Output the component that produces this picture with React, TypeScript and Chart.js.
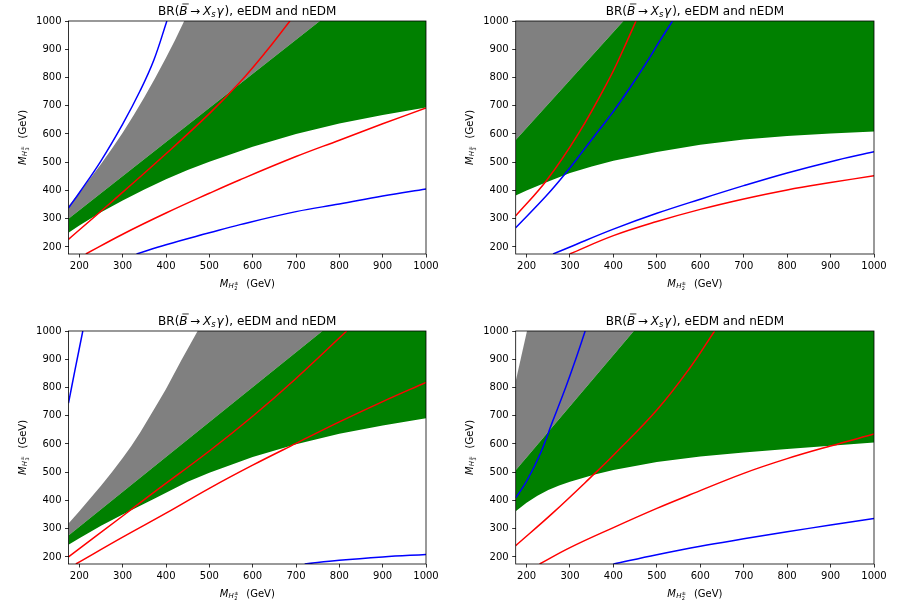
import React, { useEffect, useRef } from 'react';
import { Chart, registerables } from 'chart.js';
Chart.register(...registerables);

const X_MIN = 175, X_MAX = 1000, Y_MIN = 175, Y_MAX = 1000;
const TICKS = [200, 300, 400, 500, 600, 700, 800, 900, 1000];

// ---------- Panel 1 (top-left) ----------
const P1_GREEN_LOW_X = [175, 200, 250, 300, 350, 400, 450, 500, 600, 700, 800, 900, 1000];
const P1_GREEN_LOW_Y = [250, 276, 323, 364, 403, 440, 472, 502, 555, 600, 637, 667, 694];
const P1_GREEN_TOP_X = [175, 755];
const P1_GREEN_TOP_Y = [300, 1000];
const P1_GRAY_EDGE_X = [175, 200, 225, 250, 275, 300, 325, 350, 375, 400, 421, 442];
const P1_GRAY_EDGE_Y = [345, 393, 442, 494, 548, 604, 665, 730, 798, 870, 933, 1000];
const P1_RED_A_X = [175, 275, 400, 500, 570, 630, 686];
const P1_RED_A_Y = [227, 360, 530, 672, 782, 890, 1000];
const P1_RED_B_X = [215, 300, 400, 500, 571, 700, 800, 900, 1000];
const P1_RED_B_Y = [175, 245, 320, 390, 438, 520, 578, 636, 692];
const P1_BLUE_A_X = [175, 200, 250, 300, 340, 372, 402];
const P1_BLUE_A_Y = [338, 392, 505, 635, 752, 862, 1000];
const P1_BLUE_B_X = [332, 400, 500, 571, 700, 800, 900, 1000];
const P1_BLUE_B_Y = [175, 208, 250, 279, 325, 352, 380, 405];

// ---------- Panel 2 (top-right) ----------
const P2_GREEN_LOW_X = [175, 200, 250, 300, 350, 400, 500, 600, 700, 800, 900, 1000];
const P2_GREEN_LOW_Y = [382, 400, 432, 462, 485, 505, 536, 562, 580, 593, 602, 609];
const P2_GREEN_TOP_X = [175, 423];
const P2_GREEN_TOP_Y = [579, 1000];
const P2_GRAY_EDGE_X = [175];
const P2_GRAY_EDGE_Y = [1000];
const P2_RED_A_X = [175, 246, 319, 392, 423, 452];
const P2_RED_A_Y = [310, 435, 600, 800, 900, 1000];
const P2_RED_B_X = [299, 400, 500, 600, 700, 800, 900, 1000];
const P2_RED_B_Y = [175, 240, 290, 333, 370, 402, 428, 452];
const P2_BLUE_A_X = [175, 246, 292, 330, 365, 400, 440, 475, 505, 536];
const P2_BLUE_A_Y = [268, 382, 465, 540, 610, 680, 768, 850, 925, 1000];
const P2_BLUE_B_X = [261, 300, 400, 500, 600, 700, 800, 900, 1000];
const P2_BLUE_B_Y = [175, 200, 263, 319, 369, 417, 462, 502, 537];

// ---------- Panel 3 (bottom-left) ----------
const P3_GREEN_LOW_X = [175, 200, 250, 300, 375, 450, 500, 600, 700, 800, 900, 1000];
const P3_GREEN_LOW_Y = [243, 266, 310, 350, 408, 466, 498, 554, 599, 636, 665, 691];
const P3_GREEN_TOP_X = [175, 761];
const P3_GREEN_TOP_Y = [276, 1000];
const P3_GRAY_EDGE_X = [175, 200, 225, 250, 275, 300, 320, 340, 359, 380, 400, 420, 436, 455, 473];
const P3_GRAY_EDGE_Y = [318, 362, 407, 452, 500, 550, 593, 640, 688, 742, 795, 852, 898, 950, 1000];
const P3_RED_A_X = [175, 300, 375, 500, 600, 700, 817];
const P3_RED_A_Y = [200, 345, 432, 575, 698, 832, 1000];
const P3_RED_B_X = [192, 300, 400, 500, 600, 700, 800, 900, 1000];
const P3_RED_B_Y = [175, 270, 355, 443, 525, 602, 678, 750, 818];
const P3_BLUE_A_X = [175, 190, 208];
const P3_BLUE_A_Y = [745, 862, 1000];
const P3_BLUE_B_X = [720, 800, 900, 1000];
const P3_BLUE_B_Y = [175, 188, 200, 209];

// ---------- Panel 4 (bottom-right) ----------
const P4_GREEN_LOW_X = [175, 200, 225, 250, 275, 300, 357, 400, 500, 600, 700, 800, 900, 1000];
const P4_GREEN_LOW_Y = [362, 392, 417, 437, 453, 466, 492, 508, 536, 556, 570, 582, 594, 605];
const P4_GREEN_TOP_X = [175, 447];
const P4_GREEN_TOP_Y = [507, 1000];
const P4_GRAY_EDGE_X = [175, 201];
const P4_GRAY_EDGE_Y = [822, 1000];
const P4_RED_A_X = [175, 260, 356, 400, 500, 576, 633];
const P4_RED_A_Y = [240, 355, 494, 560, 720, 869, 1000];
const P4_RED_B_X = [230, 300, 400, 500, 576, 700, 800, 900, 1000];
const P4_RED_B_Y = [175, 233, 304, 372, 420, 496, 548, 593, 635];
const P4_BLUE_A_X = [175, 200, 230, 260, 290, 312, 335];
const P4_BLUE_A_Y = [409, 468, 560, 680, 800, 895, 1000];
const P4_BLUE_B_X = [400, 500, 600, 700, 800, 900, 1000];
const P4_BLUE_B_Y = [175, 208, 238, 264, 289, 313, 336];

const FAM = '"DejaVu Sans", sans-serif';

type Part = { t: string; s: number; i?: boolean; dy?: number; sup?: string; supDy?: number; bar?: boolean; pad?: number };

const TITLE_PARTS: Part[] = [
  { t: 'BR(', s: 12 },
  { t: 'B', s: 12, i: true, bar: true, pad: 2.5 },
  { t: '→', s: 12, pad: 3 },
  { t: 'X', s: 12, i: true },
  { t: 's', s: 8.4, i: true, dy: 2.2, pad: 0.8 },
  { t: 'γ', s: 12, i: true, pad: 1 },
  { t: '), eEDM and nEDM', s: 12 },
];
const XLABEL_PARTS: Part[] = [
  { t: 'M', s: 10, i: true, pad: 0.3 },
  { t: 'H', s: 7, i: true, dy: 1.5, pad: 0.4 },
  { t: '2', s: 5, dy: 3.4, sup: '±', supDy: -1.2, pad: 1.5 },
  { t: '  (GeV)', s: 10 },
];
const YLABEL_PARTS: Part[] = [
  { t: 'M', s: 10, i: true, pad: 0.3 },
  { t: 'H', s: 7, i: true, dy: 1.5, pad: 0.4 },
  { t: '3', s: 5, dy: 3.4, sup: '±', supDy: -1.2, pad: 1.5 },
  { t: '  (GeV)', s: 10 },
];

function fnt(size: number, italic?: boolean) {
  return `${italic ? 'italic ' : ''}${size}px ${FAM}`;
}
function partsWidth(ctx: CanvasRenderingContext2D, parts: Part[]) {
  let w = 0;
  for (const p of parts) {
    ctx.font = fnt(p.s, p.i);
    let pw = ctx.measureText(p.t).width;
    if (p.sup) pw = Math.max(pw, ctx.measureText(p.sup).width);
    w += pw + (p.pad || 0);
  }
  return w;
}
function drawParts(ctx: CanvasRenderingContext2D, parts: Part[], cx: number, y: number) {
  const w = partsWidth(ctx, parts);
  let x = cx - w / 2;
  ctx.textAlign = 'left';
  ctx.textBaseline = 'alphabetic';
  ctx.fillStyle = '#000';
  for (const p of parts) {
    ctx.font = fnt(p.s, p.i);
    const tw = ctx.measureText(p.t).width;
    ctx.fillText(p.t, x, y + (p.dy || 0));
    let pw = tw;
    if (p.sup) {
      const sw = ctx.measureText(p.sup).width;
      ctx.fillText(p.sup, x, y + (p.supDy || 0));
      pw = Math.max(tw, sw);
    }
    if (p.bar) {
      ctx.beginPath();
      ctx.lineWidth = 0.8;
      ctx.strokeStyle = '#000';
      const by = y - p.s * 0.92;
      ctx.moveTo(x + p.s * 0.25, by);
      ctx.lineTo(x + tw + p.s * 0.1, by);
      ctx.stroke();
    }
    x += pw + (p.pad || 0);
  }
}

const decor = {
  id: 'decor',
  afterDraw(chart: any) {
    const { ctx, chartArea: a } = chart;
    ctx.save();
    ctx.strokeStyle = '#000';
    ctx.lineWidth = 0.8;
    ctx.strokeRect(a.left, a.top, a.right - a.left, a.bottom - a.top);
    const cx = (a.left + a.right) / 2;
    drawParts(ctx, TITLE_PARTS, cx, a.top - 6);
    drawParts(ctx, XLABEL_PARTS, cx, a.bottom + 32.5);
    ctx.translate(a.left - 43, (a.top + a.bottom) / 2);
    ctx.rotate(-Math.PI / 2);
    drawParts(ctx, YLABEL_PARTS, 0, 0);
    ctx.restore();
  },
};

function pts(xs: number[], ys: number[]) {
  return xs.map((x, i) => ({ x, y: ys[i] }));
}

type PanelCfg = {
  left: number; top: number; w: number; h: number;
  area: { l: number; r: number; t: number; b: number };
  gl: [number[], number[]]; gt: [number[], number[]]; ge: [number[], number[]];
  lines: { x: number[]; y: number[]; color: string }[];
};

const PANELS: PanelCfg[] = [
  {
    left: 0, top: 0, w: 449, h: 300, area: { l: 68.5, r: 426, t: 21, b: 254 },
    gl: [P1_GREEN_LOW_X, P1_GREEN_LOW_Y], gt: [P1_GREEN_TOP_X, P1_GREEN_TOP_Y], ge: [P1_GRAY_EDGE_X, P1_GRAY_EDGE_Y],
    lines: [
      { x: P1_RED_A_X, y: P1_RED_A_Y, color: 'red' },
      { x: P1_RED_B_X, y: P1_RED_B_Y, color: 'red' },
      { x: P1_BLUE_A_X, y: P1_BLUE_A_Y, color: 'blue' },
      { x: P1_BLUE_B_X, y: P1_BLUE_B_Y, color: 'blue' },
    ],
  },
  {
    left: 450, top: 0, w: 449, h: 300, area: { l: 65.7, r: 424, t: 21, b: 254 },
    gl: [P2_GREEN_LOW_X, P2_GREEN_LOW_Y], gt: [P2_GREEN_TOP_X, P2_GREEN_TOP_Y], ge: [P2_GRAY_EDGE_X, P2_GRAY_EDGE_Y],
    lines: [
      { x: P2_RED_A_X, y: P2_RED_A_Y, color: 'red' },
      { x: P2_RED_B_X, y: P2_RED_B_Y, color: 'red' },
      { x: P2_BLUE_A_X, y: P2_BLUE_A_Y, color: 'blue' },
      { x: P2_BLUE_B_X, y: P2_BLUE_B_Y, color: 'blue' },
    ],
  },
  {
    left: 0, top: 300, w: 449, h: 302, area: { l: 68.5, r: 426, t: 31, b: 264 },
    gl: [P3_GREEN_LOW_X, P3_GREEN_LOW_Y], gt: [P3_GREEN_TOP_X, P3_GREEN_TOP_Y], ge: [P3_GRAY_EDGE_X, P3_GRAY_EDGE_Y],
    lines: [
      { x: P3_RED_A_X, y: P3_RED_A_Y, color: 'red' },
      { x: P3_RED_B_X, y: P3_RED_B_Y, color: 'red' },
      { x: P3_BLUE_A_X, y: P3_BLUE_A_Y, color: 'blue' },
      { x: P3_BLUE_B_X, y: P3_BLUE_B_Y, color: 'blue' },
    ],
  },
  {
    left: 450, top: 300, w: 449, h: 302, area: { l: 65.7, r: 424, t: 31, b: 264 },
    gl: [P4_GREEN_LOW_X, P4_GREEN_LOW_Y], gt: [P4_GREEN_TOP_X, P4_GREEN_TOP_Y], ge: [P4_GRAY_EDGE_X, P4_GRAY_EDGE_Y],
    lines: [
      { x: P4_RED_A_X, y: P4_RED_A_Y, color: 'red' },
      { x: P4_RED_B_X, y: P4_RED_B_Y, color: 'red' },
      { x: P4_BLUE_A_X, y: P4_BLUE_A_Y, color: 'blue' },
      { x: P4_BLUE_B_X, y: P4_BLUE_B_Y, color: 'blue' },
    ],
  },
];

function Panel({ cfg }: { cfg: PanelCfg }) {
  const ref = useRef<HTMLCanvasElement | null>(null);
  useEffect(() => {
    if (!ref.current) return;
    const { w, h, area } = cfg;
    const low = pts(cfg.gl[0], cfg.gl[1]);
    const top = pts(cfg.gt[0], cfg.gt[1]);
    const edge = pts(cfg.ge[0], cfg.ge[1]);
    const greenPoly = [...low, { x: X_MAX, y: Y_MAX }, ...top.slice().reverse()];
    const grayPoly = [...top, ...edge.slice().reverse()];
    const datasets: any[] = [
      { data: grayPoly, fill: 'shape', backgroundColor: 'gray', borderWidth: 0, tension: 0, clip: 0, order: 10 },
      { data: greenPoly, fill: 'shape', backgroundColor: 'green', borderWidth: 0, tension: 0, clip: 0, order: 9 },
      ...cfg.lines.map((l, i) => ({
        data: pts(l.x, l.y), fill: false, borderColor: l.color, borderWidth: 1.5,
        tension: 0.4, clip: 0, order: 5 - i,
      })),
    ];
    const tickFont = { family: FAM, size: 10 };
    const fmt = (v: any) => String(v);
    const chart = new Chart(ref.current, {
      type: 'line',
      data: { datasets },
      plugins: [decor],
      options: {
        animation: false,
        responsive: false,
        devicePixelRatio: 1,
        events: [],
        layout: { padding: { left: 0, right: w - area.r, top: area.t, bottom: 0 } },
        elements: { point: { radius: 0, hoverRadius: 0 }, line: { capBezierPoints: false } },
        plugins: { legend: { display: false }, tooltip: { enabled: false }, title: { display: false } },
        scales: {
          x: {
            type: 'linear', min: X_MIN, max: X_MAX,
            afterBuildTicks: (s: any) => { s.ticks = TICKS.map((v) => ({ value: v })); },
            afterFit: (s: any) => { s.height = h - area.b; },
            grid: { display: true, drawOnChartArea: false, drawTicks: true, tickLength: 3.5, color: '#000', lineWidth: 0.8 },
            border: { display: false },
            ticks: { font: tickFont, color: '#000', padding: 3, maxRotation: 0, autoSkip: false, callback: fmt },
          },
          y: {
            type: 'linear', min: Y_MIN, max: Y_MAX,
            afterBuildTicks: (s: any) => { s.ticks = TICKS.map((v) => ({ value: v })); },
            afterFit: (s: any) => { s.width = area.l; },
            grid: { display: true, drawOnChartArea: false, drawTicks: true, tickLength: 3.5, color: '#000', lineWidth: 0.8 },
            border: { display: false },
            ticks: { font: tickFont, color: '#000', padding: 3.5, autoSkip: false, callback: fmt },
          },
        },
      } as any,
    });
    return () => chart.destroy();
  }, [cfg]);
  return (
    <canvas
      ref={ref}
      width={cfg.w}
      height={cfg.h}
      style={{ position: 'absolute', left: cfg.left, top: cfg.top, width: cfg.w, height: cfg.h }}
    />
  );
}

export default function App() {
  return (
    <div style={{ position: 'absolute', left: 0, top: 0, width: 899, height: 602, background: '#fff' }}>
      {PANELS.map((p, i) => (
        <Panel key={i} cfg={p} />
      ))}
    </div>
  );
}
